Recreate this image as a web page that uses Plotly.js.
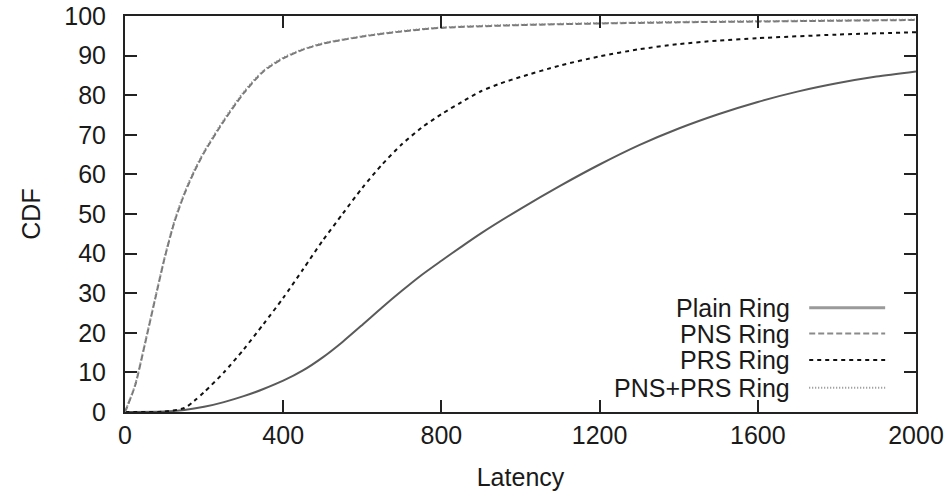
<!DOCTYPE html>
<html>
<head>
<meta charset="utf-8">
<script src="https://cdn.plot.ly/plotly-3.0.1.min.js"></script>
<style>html,body{margin:0;padding:0;background:#fff;}#chart{width:947px;height:491px;}</style>
</head>
<body>
<div id="chart"></div>
<script>
// Latency (x) and CDF (%) values
const plainX = [0, 100, 150, 200, 250, 300, 350, 400, 450, 500, 550, 600, 650, 700, 750, 800, 850, 900, 1000, 1100, 1200, 1300, 1400, 1500, 1600, 1700, 1800, 1900, 2000];
const plainY = [0, 0.1, 0.5, 1.3, 2.5, 4.0, 5.8, 7.9, 10.5, 13.8, 17.7, 22.0, 26.4, 30.6, 34.6, 38.2, 41.7, 45.1, 51.3, 57.1, 62.5, 67.4, 71.6, 75.2, 78.3, 80.9, 83.0, 84.7, 86.0];

const pnsX = [0, 25, 50, 75, 100, 125, 150, 175, 200, 250, 300, 350, 400, 450, 500, 600, 700, 800, 1000, 1200, 1400, 1600, 1800, 2000];
const pnsY = [0, 6.5, 17, 28, 38.8, 48, 55, 60.7, 65.5, 73.5, 80.5, 86, 89.3, 91.5, 93, 94.8, 96.1, 97, 97.7, 98.1, 98.4, 98.6, 98.8, 99.0];

const prsX = [0, 100, 150, 175, 200, 250, 300, 350, 400, 450, 500, 550, 600, 650, 700, 750, 800, 850, 900, 950, 1000, 1100, 1200, 1300, 1400, 1500, 1600, 1800, 2000];
const prsY = [0, 0.1, 1.0, 2.8, 5.0, 10.0, 15.8, 22.2, 28.8, 36.0, 43.3, 50.0, 56.6, 62.5, 67.6, 71.8, 75.2, 78.2, 81.0, 83.0, 84.6, 87.5, 89.8, 91.6, 92.9, 93.8, 94.4, 95.3, 95.9];

const bothX = [0, 25, 50, 75, 100, 125, 150, 175, 200, 250, 300, 350, 400, 450, 500, 600, 700, 800, 1000, 1200, 1400, 1600, 1800, 2000];
const bothY = [0, 6.7, 17.2, 28.2, 39, 48.3, 55.3, 61, 65.8, 73.8, 80.8, 86.2, 89.5, 91.6, 93.1, 94.9, 96.2, 97.1, 97.8, 98.2, 98.5, 98.7, 98.9, 99.1];

const seriesNames = ["Plain Ring", "PNS Ring", "PRS Ring", "PNS+PRS Ring"];
const xTicks = [0, 400, 800, 1200, 1600, 2000];
const yTicks = [0, 10, 20, 30, 40, 50, 60, 70, 80, 90, 100];

const styles = [
  {color: "#5a5a5a", width: 2, dash: "solid"},
  {color: "#777777", width: 2, dash: "6px,3px"},
  {color: "#111111", width: 2, dash: "4px,4px"},
  {color: "#8a8a8a", width: 2, dash: "1px,2px"}
];
const legendStyles = [
  {color: "#9a9a9a", width: 3, dash: "solid"},
  {color: "#8a8a8a", width: 2, dash: "6px,3px"},
  {color: "#111111", width: 2, dash: "4px,4px"},
  {color: "#8a8a8a", width: 2, dash: "1px,2px"}
];

const xs = [plainX, pnsX, prsX, bothX];
const ys = [plainY, pnsY, prsY, bothY];
const traces = xs.map((x, i) => ({
  x: x, y: ys[i], name: seriesNames[i], type: "scatter", mode: "lines",
  line: {color: styles[i].color, width: styles[i].width, dash: styles[i].dash, shape: "spline", smoothing: 0.7},
  showlegend: false
}));

const font = {family: "Liberation Sans, Arial, sans-serif", size: 25, color: "#1a1a1a"};
const rowsY = [0.263, 0.198, 0.131, 0.061];
const annotations = seriesNames.map((n, i) => ({
  xref: "paper", yref: "paper", x: 0.843, y: rowsY[i], xanchor: "right", yanchor: "middle",
  text: n, showarrow: false, font: font
}));
const shapes = seriesNames.map((n, i) => ({
  type: "line", xref: "paper", yref: "paper", x0: 0.865, x1: 0.961, y0: rowsY[i], y1: rowsY[i],
  line: {color: legendStyles[i].color, width: legendStyles[i].width, dash: legendStyles[i].dash}
}));

const layout = {
  width: 947, height: 491,
  margin: {l: 125, r: 31, t: 16, b: 79},
  paper_bgcolor: "#fff", plot_bgcolor: "#fff",
  font: font,
  showlegend: false,
  xaxis: {
    range: [0, 2000], tickvals: xTicks, ticktext: xTicks.map(String),
    showgrid: false, zeroline: false, showline: true, mirror: "ticks",
    linecolor: "#222", linewidth: 2, ticks: "inside", ticklen: 12, tickwidth: 2, tickcolor: "#222",
    title: {text: "Latency", font: font, standoff: 20}
  },
  yaxis: {
    range: [0, 100], tickvals: yTicks, ticktext: yTicks.map(String),
    showgrid: false, zeroline: false, showline: true, mirror: "ticks",
    linecolor: "#222", linewidth: 2, ticks: "inside", ticklen: 12, tickwidth: 2, tickcolor: "#222",
    ticklabelstandoff: 12,
    title: {text: "CDF", font: font, standoff: 17}
  },
  annotations: annotations,
  shapes: shapes
};

Plotly.newPlot("chart", traces, layout, {displayModeBar: false, staticPlot: true});
</script>
</body>
</html>
